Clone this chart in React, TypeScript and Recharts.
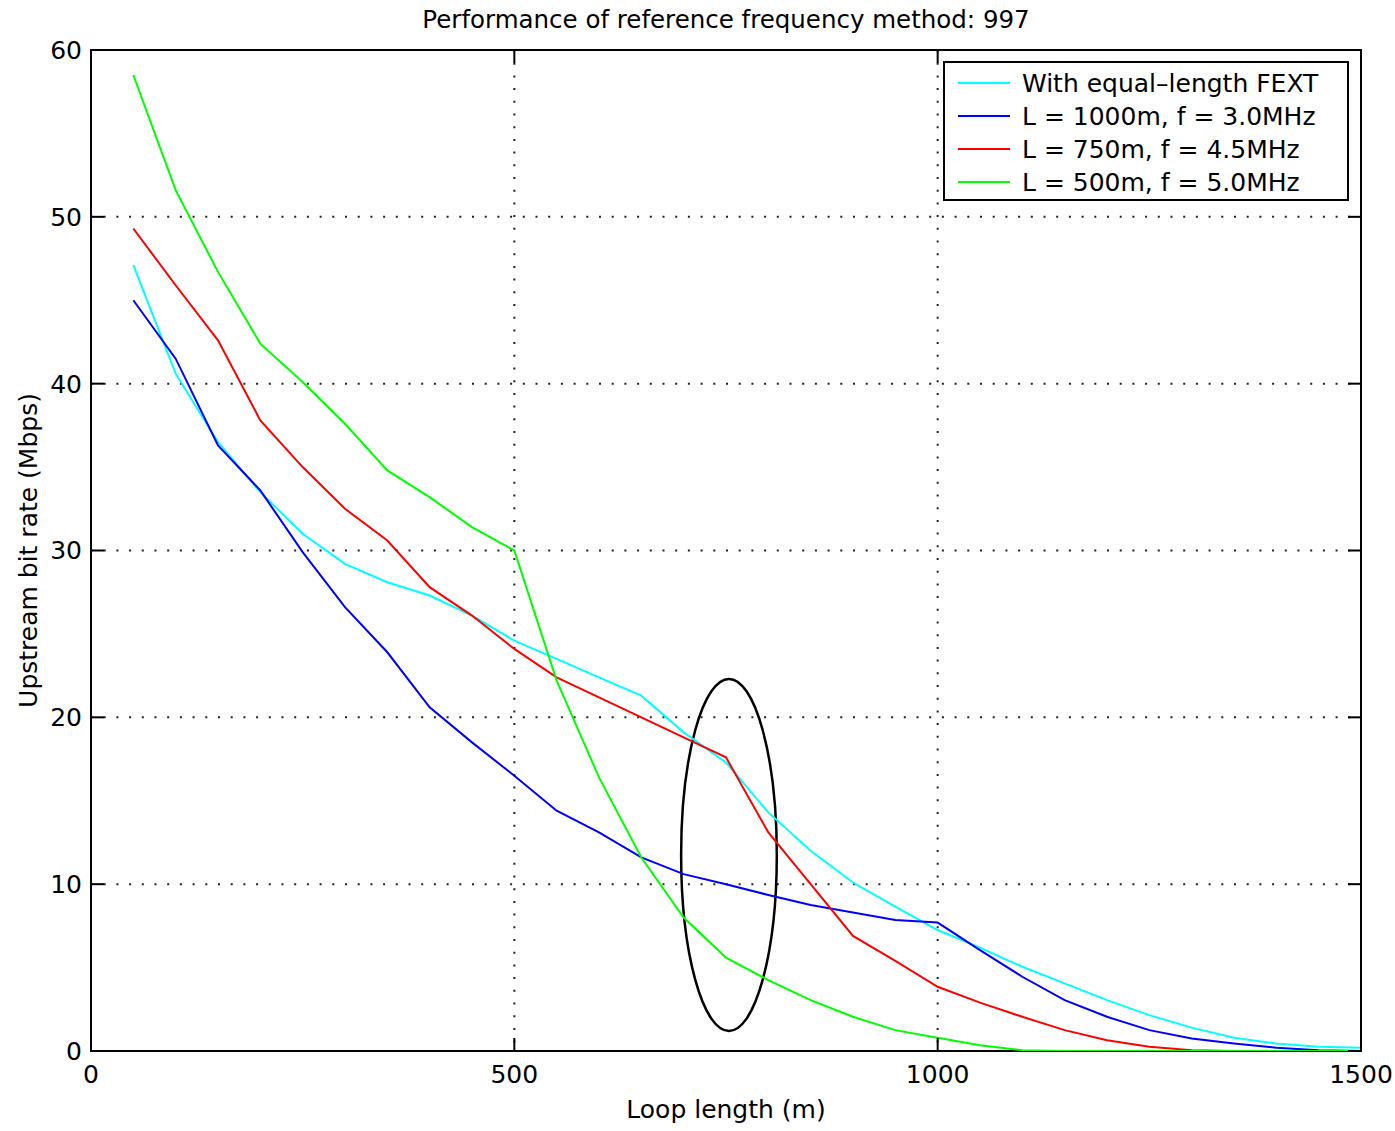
import React from 'react';
import { LineChart, Line, XAxis, YAxis, CartesianGrid, Legend, ReferenceArea, ReferenceDot } from 'recharts';

const FONT = '"DejaVu Sans", "Liberation Sans", Arial, sans-serif';

const loopLength = [50, 100, 150, 200, 250, 300, 350, 400, 450, 500, 550, 600, 650, 700, 750, 800, 850, 900, 950, 1000, 1050, 1100, 1150, 1200, 1250, 1300, 1350, 1400, 1450, 1500];
const equalFext = [47.1, 40.6, 36.5, 33.5, 31.0, 29.2, 28.1, 27.3, 26.1, 24.6, 23.5, 22.4, 21.3, 19.1, 17.3, 14.3, 12.0, 10.1, 8.65, 7.25, 6.2, 5.05, 4.05, 3.05, 2.15, 1.4, 0.8, 0.45, 0.25, 0.2];
const l1000 = [45.0, 41.5, 36.3, 33.6, 29.9, 26.6, 23.9, 20.6, 18.5, 16.5, 14.4, 13.1, 11.6, 10.6, 10.0, 9.35, 8.75, 8.3, 7.85, 7.7, 6.05, 4.45, 3.05, 2.05, 1.25, 0.75, 0.45, 0.2, 0.05, 0];
const l750 = [49.3, 45.9, 42.6, 37.8, 35.0, 32.5, 30.6, 27.8, 26.1, 24.1, 22.4, 21.2, 20.0, 18.8, 17.6, 13.1, 10.0, 6.9, 5.4, 3.85, 2.9, 2.05, 1.25, 0.65, 0.25, 0.05, 0, 0, 0, 0];
const l500 = [58.5, 51.6, 46.7, 42.4, 40.1, 37.6, 34.8, 33.2, 31.4, 30.0, 22.2, 16.4, 11.6, 8.0, 5.6, 4.25, 3.05, 2.05, 1.25, 0.8, 0.35, 0.05, 0, 0, 0, 0, 0, 0, 0, 0];

const seriesKeys = ['fext', 'l1000', 'l750', 'l500'];
const seriesNames = ['With equal\u2013length FEXT', 'L = 1000m, f = 3.0MHz', 'L = 750m, f = 4.5MHz', 'L = 500m, f = 5.0MHz'];
const seriesColors = ['#00FFFF', '#0000FF', '#FF0000', '#00FF00'];

const xTicks = [0, 500, 1000, 1500];
const yTicks = [0, 10, 20, 30, 40, 50, 60];
const xDomain = [0, 1500];
const yDomain = [0, 60];

const titleText = 'Performance of reference frequency method: 997';
const xLabelText = 'Loop length (m)';
const yLabelText = 'Upstream bit rate (Mbps)';

// highlighted region (ellipse bounds) in data units
const highlightX = [697, 810];
const highlightY = [1.2, 22.3];

const data = loopLength.map((x, i) => ({
  x,
  fext: equalFext[i],
  l1000: l1000[i],
  l750: l750[i],
  l500: l500[i],
}));

const TICK_LEN = 13;
const tickStyle = { fill: '#000', fontSize: 25, fontFamily: FONT };

const XLabel = (props: any) => {
  const vb = props.viewBox || {};
  return (
    <text x={vb.x + vb.width / 2} y={vb.y + 67} textAnchor="middle" fontSize={25} fontFamily={FONT} fill="#000">
      {xLabelText}
    </text>
  );
};

const YLabel = (props: any) => {
  const vb = props.viewBox || {};
  const cx = vb.x + 28;
  const cy = vb.y + vb.height / 2;
  return (
    <text
      x={cx}
      y={cy}
      textAnchor="middle"
      dominantBaseline="central"
      transform={`rotate(-90, ${cx}, ${cy})`}
      fontSize={25}
      fontFamily={FONT}
      fill="#000"
    >
      {yLabelText}
    </text>
  );
};

// Frame of the plot box plus the title above it
const FrameShape = (props: any) => {
  const { x, y, width, height } = props;
  if ([x, y, width, height].some((v) => typeof v !== 'number' || isNaN(v))) return null;
  return (
    <g>
      <rect x={x} y={y} width={width} height={height} fill="none" stroke="#000" strokeWidth={2} />
      <text x={x + width / 2} y={y - 22} textAnchor="middle" fontSize={24.5} fontFamily={FONT} fill="#000">
        {titleText}
      </text>
    </g>
  );
};

const TopTick = (props: any) => {
  const { cx, cy } = props;
  if (typeof cx !== 'number' || typeof cy !== 'number') return null;
  return <line x1={cx} x2={cx} y1={cy} y2={cy + TICK_LEN} stroke="#000" strokeWidth={2} />;
};

const RightTick = (props: any) => {
  const { cx, cy } = props;
  if (typeof cx !== 'number' || typeof cy !== 'number') return null;
  return <line x1={cx} x2={cx - TICK_LEN} y1={cy} y2={cy} stroke="#000" strokeWidth={2} />;
};

const EllipseShape = (props: any) => {
  const { x, y, width, height } = props;
  if ([x, y, width, height].some((v) => typeof v !== 'number' || isNaN(v))) return null;
  return (
    <ellipse
      cx={x + width / 2}
      cy={y + height / 2}
      rx={Math.abs(width) / 2}
      ry={Math.abs(height) / 2}
      fill="none"
      stroke="#000"
      strokeWidth={2.5}
    />
  );
};

const LegendBox = () => {
  const rowGap = 33;
  return (
    <div style={{ width: 406, height: 140 }}>
      <svg width={406} height={140}>
        <rect x={1} y={1} width={404} height={138} fill="#fff" stroke="#000" strokeWidth={2} />
        {seriesNames.map((name, i) => {
          const cy = 22 + i * rowGap;
          return (
            <g key={i}>
              <line x1={15} x2={67} y1={cy} y2={cy} stroke={seriesColors[i]} strokeWidth={2} />
              <text x={79} y={cy} dominantBaseline="central" fontSize={25} fontFamily={FONT} fill="#000">
                {name}
              </text>
            </g>
          );
        })}
      </svg>
    </div>
  );
};

export default function App() {
  return (
    <div style={{ position: 'absolute', left: 0, top: 0, width: 1395, height: 1131, background: '#fff' }}>
      <LineChart width={1395} height={1131} data={data} margin={{ top: 50, right: 34, bottom: 0, left: 0 }}>
        <CartesianGrid stroke="#222" strokeWidth={2} strokeDasharray="2 10.7" />
        <XAxis
          dataKey="x"
          type="number"
          domain={xDomain}
          ticks={xTicks}
          allowDataOverflow
          height={80}
          tickSize={-TICK_LEN}
          tickMargin={27}
          tick={tickStyle}
          axisLine={false}
          tickLine={{ stroke: '#000', strokeWidth: 2 }}
          label={{ content: XLabel }}
        />
        <YAxis
          type="number"
          domain={yDomain}
          ticks={yTicks}
          allowDataOverflow
          width={91}
          tickSize={-TICK_LEN}
          tickMargin={22}
          tick={tickStyle}
          axisLine={false}
          tickLine={{ stroke: '#000', strokeWidth: 2 }}
          label={{ content: YLabel }}
        />
        <ReferenceArea
          x1={xDomain[0]}
          x2={xDomain[1]}
          y1={yDomain[0]}
          y2={yDomain[1]}
          ifOverflow="visible"
          shape={FrameShape}
        />
        {xTicks.map((t) => (
          <ReferenceDot key={`tt${t}`} x={t} y={yDomain[1]} ifOverflow="visible" shape={TopTick} />
        ))}
        {yTicks.map((t) => (
          <ReferenceDot key={`rt${t}`} x={xDomain[1]} y={t} ifOverflow="visible" shape={RightTick} />
        ))}
        {seriesKeys.map((k, i) => (
          <Line
            key={k}
            dataKey={k}
            name={seriesNames[i]}
            stroke={seriesColors[i]}
            strokeWidth={2}
            dot={false}
            activeDot={false}
            type="linear"
            isAnimationActive={false}
          />
        ))}
        <ReferenceArea
          x1={highlightX[0]}
          x2={highlightX[1]}
          y1={highlightY[0]}
          y2={highlightY[1]}
          ifOverflow="visible"
          shape={EllipseShape}
        />
        <Legend
          layout="vertical"
          align="center"
          verticalAlign="middle"
          content={LegendBox}
          wrapperStyle={{ left: 943, top: 61, width: 406, height: 140 }}
        />
      </LineChart>
    </div>
  );
}
